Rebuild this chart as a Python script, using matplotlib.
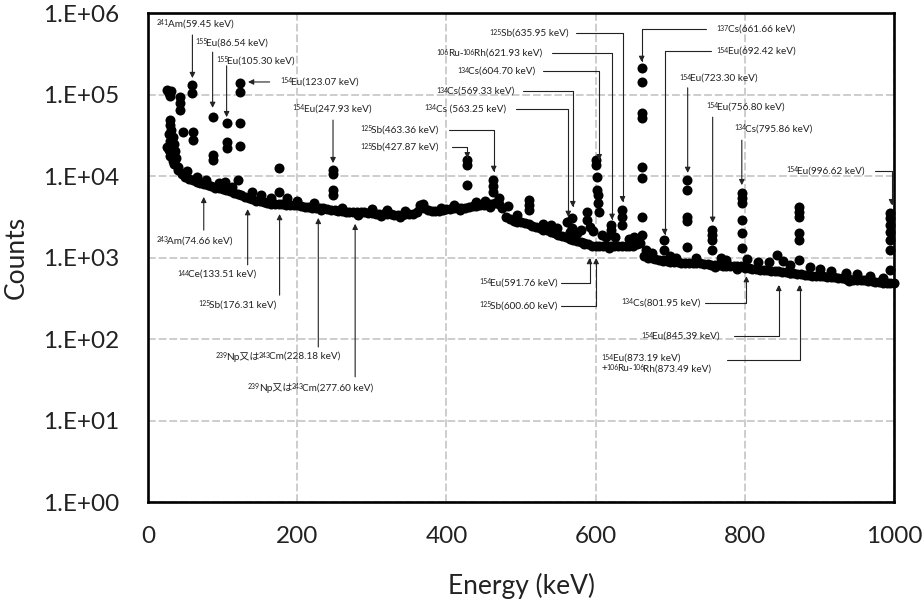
import re
import numpy as np
import matplotlib.pyplot as plt
from matplotlib.ticker import FixedLocator, FuncFormatter
from matplotlib.offsetbox import TextArea, HPacker, VPacker, AnnotationBbox

plt.rcParams['font.family'] = ['Lato', 'DejaVu Sans', 'Noto Sans CJK JP']
note_font = ['Lato', 'Noto Sans CJK JP']

# continuum, one point every 5 keV from 25 to 1000 keV
cont_e = np.arange(25, 1001, 5)
cont_c = [22400, 17800, 14100, 12000, 10500, 9800, 9300, 8900, 8500, 8300,
          7900, 7800, 7600, 7200, 7100, 6900, 6800, 6500, 6200, 6000,
          5800, 5600, 5400, 5200, 5000, 4900, 4800, 4700, 4600, 4600,
          4500, 4500, 4400, 4400, 4400, 4400, 4300, 4200, 4200, 4100,
          4100, 4000, 4000, 3900, 3800, 3800, 3700, 3700, 3600, 3600,
          3600, 3600, 3600, 3600, 3550, 3550, 3450, 3450, 3400, 3400,
          3400, 3300, 3300, 3300, 3400, 3400, 3450, 3600, 4000, 4100,
          3800, 3700, 3700, 3700, 3800, 3900, 3900, 4000, 4000, 4100,
          4100, 4200, 4300, 4300, 4400, 4400, 4500, 4600, 4700, 4600,
          4000, 3150, 2950, 2800, 2750, 2700, 2650, 2550, 2450, 2350,
          2300, 2200, 2150, 2050, 2000, 1900, 1850, 1800, 1700, 1650,
          1600, 1550, 1500, 1450, 1400, 1380, 1380, 1400, 1380, 1380,
          1380, 1380, 1380, 1380, 1400, 1400, 1450, 1500, 1050, 1000,
          980, 950, 930, 910, 910, 890, 890, 870, 850, 850,
          850, 850, 850, 850, 830, 830, 810, 810, 810, 795,
          795, 795, 795, 795, 780, 740, 740, 725, 725, 710,
          710, 710, 690, 690, 675, 660, 660, 645, 645, 630,
          630, 615, 615, 600, 600, 590, 590, 575, 575, 575,
          560, 560, 550, 550, 535, 535, 525, 525, 515, 515,
          500, 500, 490, 490, 480, 480]

# small bumps just above and below the continuum
bump_e = [52, 65, 78, 95, 112, 140, 152, 165, 186, 200, 222, 260, 300, 320, 345,
          364, 368, 392, 410, 440, 452, 470, 482, 495, 530, 540, 548, 575, 580,
          592, 596, 608, 614, 626, 645, 652, 668, 676, 700, 708, 735, 768, 775,
          803, 818, 832, 851, 860, 887, 900, 915, 935, 950, 968, 985,
          232, 282, 312, 338, 418, 458, 545, 585, 618, 690, 760, 790, 860, 940]
bump_c = [11500, 9800, 9000, 8200, 7400, 6300, 5800, 5300, 5300, 4900, 4700, 4100,
          3900, 3800, 3750, 4400, 4500, 4100, 4400, 4800, 5000, 5300, 4300, 3300,
          2600, 2500, 2300, 2000, 2200, 2400, 2100, 1900, 1800, 1800, 1700, 1800,
          1250, 1150, 1050, 1000, 1000, 1000, 920, 950, 880, 880, 900, 820, 760,
          720, 680, 640, 620, 600, 560,
          3800, 3350, 3200, 3100, 3800, 4200, 2000, 1450, 1300, 920, 760, 730,
          650, 520]

# peak channels
peak_e = [26, 28, 31, 29, 43, 43, 43, 29, 30, 31, 28, 33, 30, 35, 32, 28, 36, 31,
          38, 33, 36, 40, 47, 60, 60,
          59.45, 59.45,
          86.5, 86.5, 86.5,
          105.3, 105.3, 105.3, 103,
          123, 123, 123, 123, 121,
          175.4, 175.4,
          248, 248, 248, 248,
          427, 427, 427,
          462, 462, 462,
          510, 510, 510,
          562, 565, 568, 568,
          589, 589,
          601, 601, 602, 602, 603, 603, 604,
          621, 621,
          635, 635, 635,
          661.7, 661.7, 661.7, 661.7, 661.7, 661.7, 661.7, 661.7,
          692, 692,
          722, 722, 722, 722, 722,
          756, 756, 756, 756,
          796, 796, 796, 796, 796, 796,
          843,
          872, 872, 872, 872, 872, 872,
          995, 995, 995, 995, 995, 995, 995]
peak_c = [115000, 105000, 110000, 95000, 93000, 79000, 65000, 48000, 42000, 37000,
          33000, 30000, 27000, 25000, 23000, 21000, 20000, 18000, 16500, 15500,
          14000, 13000, 35000, 35000, 28000,
          131000, 105000,
          53000, 18000, 15800,
          45000, 26000, 22000, 8500,
          138000, 107000, 45000, 23300, 8900,
          12500, 6300,
          11800, 10500, 6700, 5800,
          15800, 13600, 7800,
          8900, 7600, 6300,
          5100, 4400, 3800,
          2700, 2050, 3050, 2300,
          3600, 2900,
          15800, 13600, 9700, 6700, 5800, 4700, 3600,
          2500, 2200,
          3800, 3150, 2500,
          212000, 142000, 59000, 51000, 12900, 9500, 3150, 1900,
          1630, 1230,
          8900, 6700, 3150, 2800, 1350,
          2200, 1900, 1630, 1230,
          6200, 5400, 4700, 2900, 2000, 1320,
          1070,
          4200, 3600, 3150, 2000, 1630, 930,
          3500, 3050, 2500, 2050, 1630, 1230, 700]

# label (^nnn = mass number), text x (keV), text y (axes fraction), kind, start, tip
notes = [
    ('^241Am(59.45 keV)', 12, 0.978, 'v', (59.45, 0.955), (59.45, 0.867)),
    ('^155Eu(86.54 keV)', 63, 0.939, 'v', (86.54, 0.920), (86.54, 0.806)),
    ('^155Eu(105.30 keV)', 91, 0.902, 'v', (105.3, 0.892), (105.3, 0.787)),
    ('^154Eu(123.07 keV)', 177, 0.859, 'v', (163, 0.859), (134, 0.859)),
    ('^154Eu(247.93 keV)', 194, 0.804, 'v', (247.93, 0.781), (247.93, 0.693)),
    ('^125Sb(635.95 keV)', 458, 0.959, 'e', (574, 0.959), (635.95, 0.613)),
    ('^106Ru-^106Rh(621.93 keV)', 387, 0.918, 'e', (541, 0.918), (621.93, 0.577)),
    ('^134Cs(604.70 keV)', 414, 0.881, 'e', (529, 0.881), (604.7, 0.699)),
    ('^134Cs(569.33 keV)', 386, 0.840, 'e', (503, 0.840), (569.33, 0.603)),
    ('^134Cs (563.25 keV)', 371, 0.804, 'e', (493, 0.804), (563.25, 0.583)),
    ('^125Sb(463.36 keV)', 284, 0.761, 'e', (404, 0.761), (463.36, 0.675)),
    ('^125Sb(427.87 keV)', 284, 0.726, 'e', (407, 0.726), (427.87, 0.703)),
    ('^137Cs(661.66 keV)', 762, 0.967, 'e', (748, 0.967), (661.66, 0.900)),
    ('^154Eu(692.42 keV)', 762, 0.922, 'e', (755, 0.922), (692.42, 0.546)),
    ('^154Eu(723.30 keV)', 712, 0.867, 'v', (723.3, 0.847), (723.3, 0.673)),
    ('^154Eu(756.80 keV)', 748, 0.808, 'v', (756.8, 0.787), (756.8, 0.571)),
    ('^134Cs(795.86 keV)', 786, 0.763, 'v', (795.86, 0.740), (795.86, 0.648)),
    ('^154Eu(996.62 keV)', 855, 0.677, 'e', (975, 0.677), (996.62, 0.607)),
    ('^243Am(74.66 keV)', 11, 0.534, 'v', (74.66, 0.556), (74.66, 0.624)),
    ('^144Ce(133.51 keV)', 39, 0.466, 'v', (133.51, 0.485), (133.51, 0.599)),
    ('^125Sb(176.31 keV)', 67, 0.403, 'v', (176.31, 0.423), (176.31, 0.589)),
    ('^239Np又は^243Cm(228.18 keV)', 90, 0.297, 'v', (228.18, 0.317), (228.18, 0.581)),
    ('^239Np又は^243Cm(277.60 keV)', 134, 0.233, 'v', (277.6, 0.256), (277.6, 0.569)),
    ('^154Eu(591.76 keV)', 444, 0.448, 'e', (553, 0.448), (591.76, 0.499)),
    ('^125Sb(600.60 keV)', 444, 0.401, 'e', (553, 0.401), (600.6, 0.499)),
    ('^134Cs(801.95 keV)', 635, 0.407, 'e', (746, 0.407), (801.95, 0.462)),
    ('^154Eu(845.39 keV)', 661, 0.339, 'e', (786, 0.339), (845.39, 0.444)),
    ('^154Eu(873.19 keV)\n+^106Ru-^106Rh(873.49 keV)', 608, 0.283, 'e',
     (776, 0.290), (873.19, 0.444)),
]


def label_box(text):
    rows = []
    for line in text.split('\n'):
        parts = []
        for i, chunk in enumerate(re.split(r'\^(\d+)', line)):
            if not chunk:
                continue
            size = 5.0 if i % 2 else 7.2
            parts.append(TextArea(chunk, textprops=dict(fontsize=size, family=note_font,
                                                        color='#222222')))
        rows.append(HPacker(children=parts, align='top', pad=0, sep=-0.8))
    if len(rows) == 1:
        return rows[0]
    return VPacker(children=rows, align='left', pad=0, sep=1)


fig = plt.figure(figsize=(9.23, 6.0), dpi=100)
ax = fig.add_axes([0.1604, 0.1633, 0.8083, 0.815])

dot = dict(s=52, c='black', linewidths=0, zorder=3, clip_on=False)
ax.scatter(cont_e, cont_c, **dot)
ax.scatter(bump_e, bump_c, **dot)
ax.scatter(peak_e, peak_c, **dot)

ax.set_yscale('log')
ax.set_xlim(0, 1000)
ax.set_ylim(1, 1e6)
ax.xaxis.set_major_locator(FixedLocator([0, 200, 400, 600, 800, 1000]))
ax.yaxis.set_major_locator(FixedLocator([1, 10, 100, 1e3, 1e4, 1e5, 1e6]))
ax.yaxis.set_minor_locator(FixedLocator([]))
ax.yaxis.set_major_formatter(FuncFormatter(lambda v, p: '1.E+%02d' % round(np.log10(v))))
ax.tick_params(length=0, labelsize=17.5, colors='#222222')
ax.tick_params(axis='y', pad=21)
ax.tick_params(axis='x', pad=17)

ax.grid(True, color='#cdcdcd', lw=1.4, ls=(0, (4, 1.5)))
ax.set_axisbelow(True)
for s in ax.spines.values():
    s.set_linewidth(1.9)
    s.set_color('black')

ax.set_xlabel('Energy (keV)', fontsize=19, color='#222222')
ax.set_ylabel('Counts', fontsize=19, color='#222222')
ax.xaxis.set_label_coords(0.5, -0.145)
ax.yaxis.set_label_coords(-0.16, 0.5)

tr = ('data', 'axes fraction')
for label, tx, ty, kind, start, tip in notes:
    ab = AnnotationBbox(label_box(label), (tx, ty), xycoords=tr, box_alignment=(0, 0.5),
                        frameon=False, pad=0, annotation_clip=False, zorder=4)
    ax.add_artist(ab)
    cs = 'angle,angleA=0,angleB=90,rad=0' if kind == 'e' else 'arc3'
    ax.annotate('', xy=tip, xycoords=tr, xytext=start, textcoords=tr,
                arrowprops=dict(arrowstyle='-|>', color='#222222', lw=0.8,
                                mutation_scale=8, shrinkA=0, shrinkB=0,
                                connectionstyle=cs), zorder=4)

fig.savefig('out.png', dpi=100)
